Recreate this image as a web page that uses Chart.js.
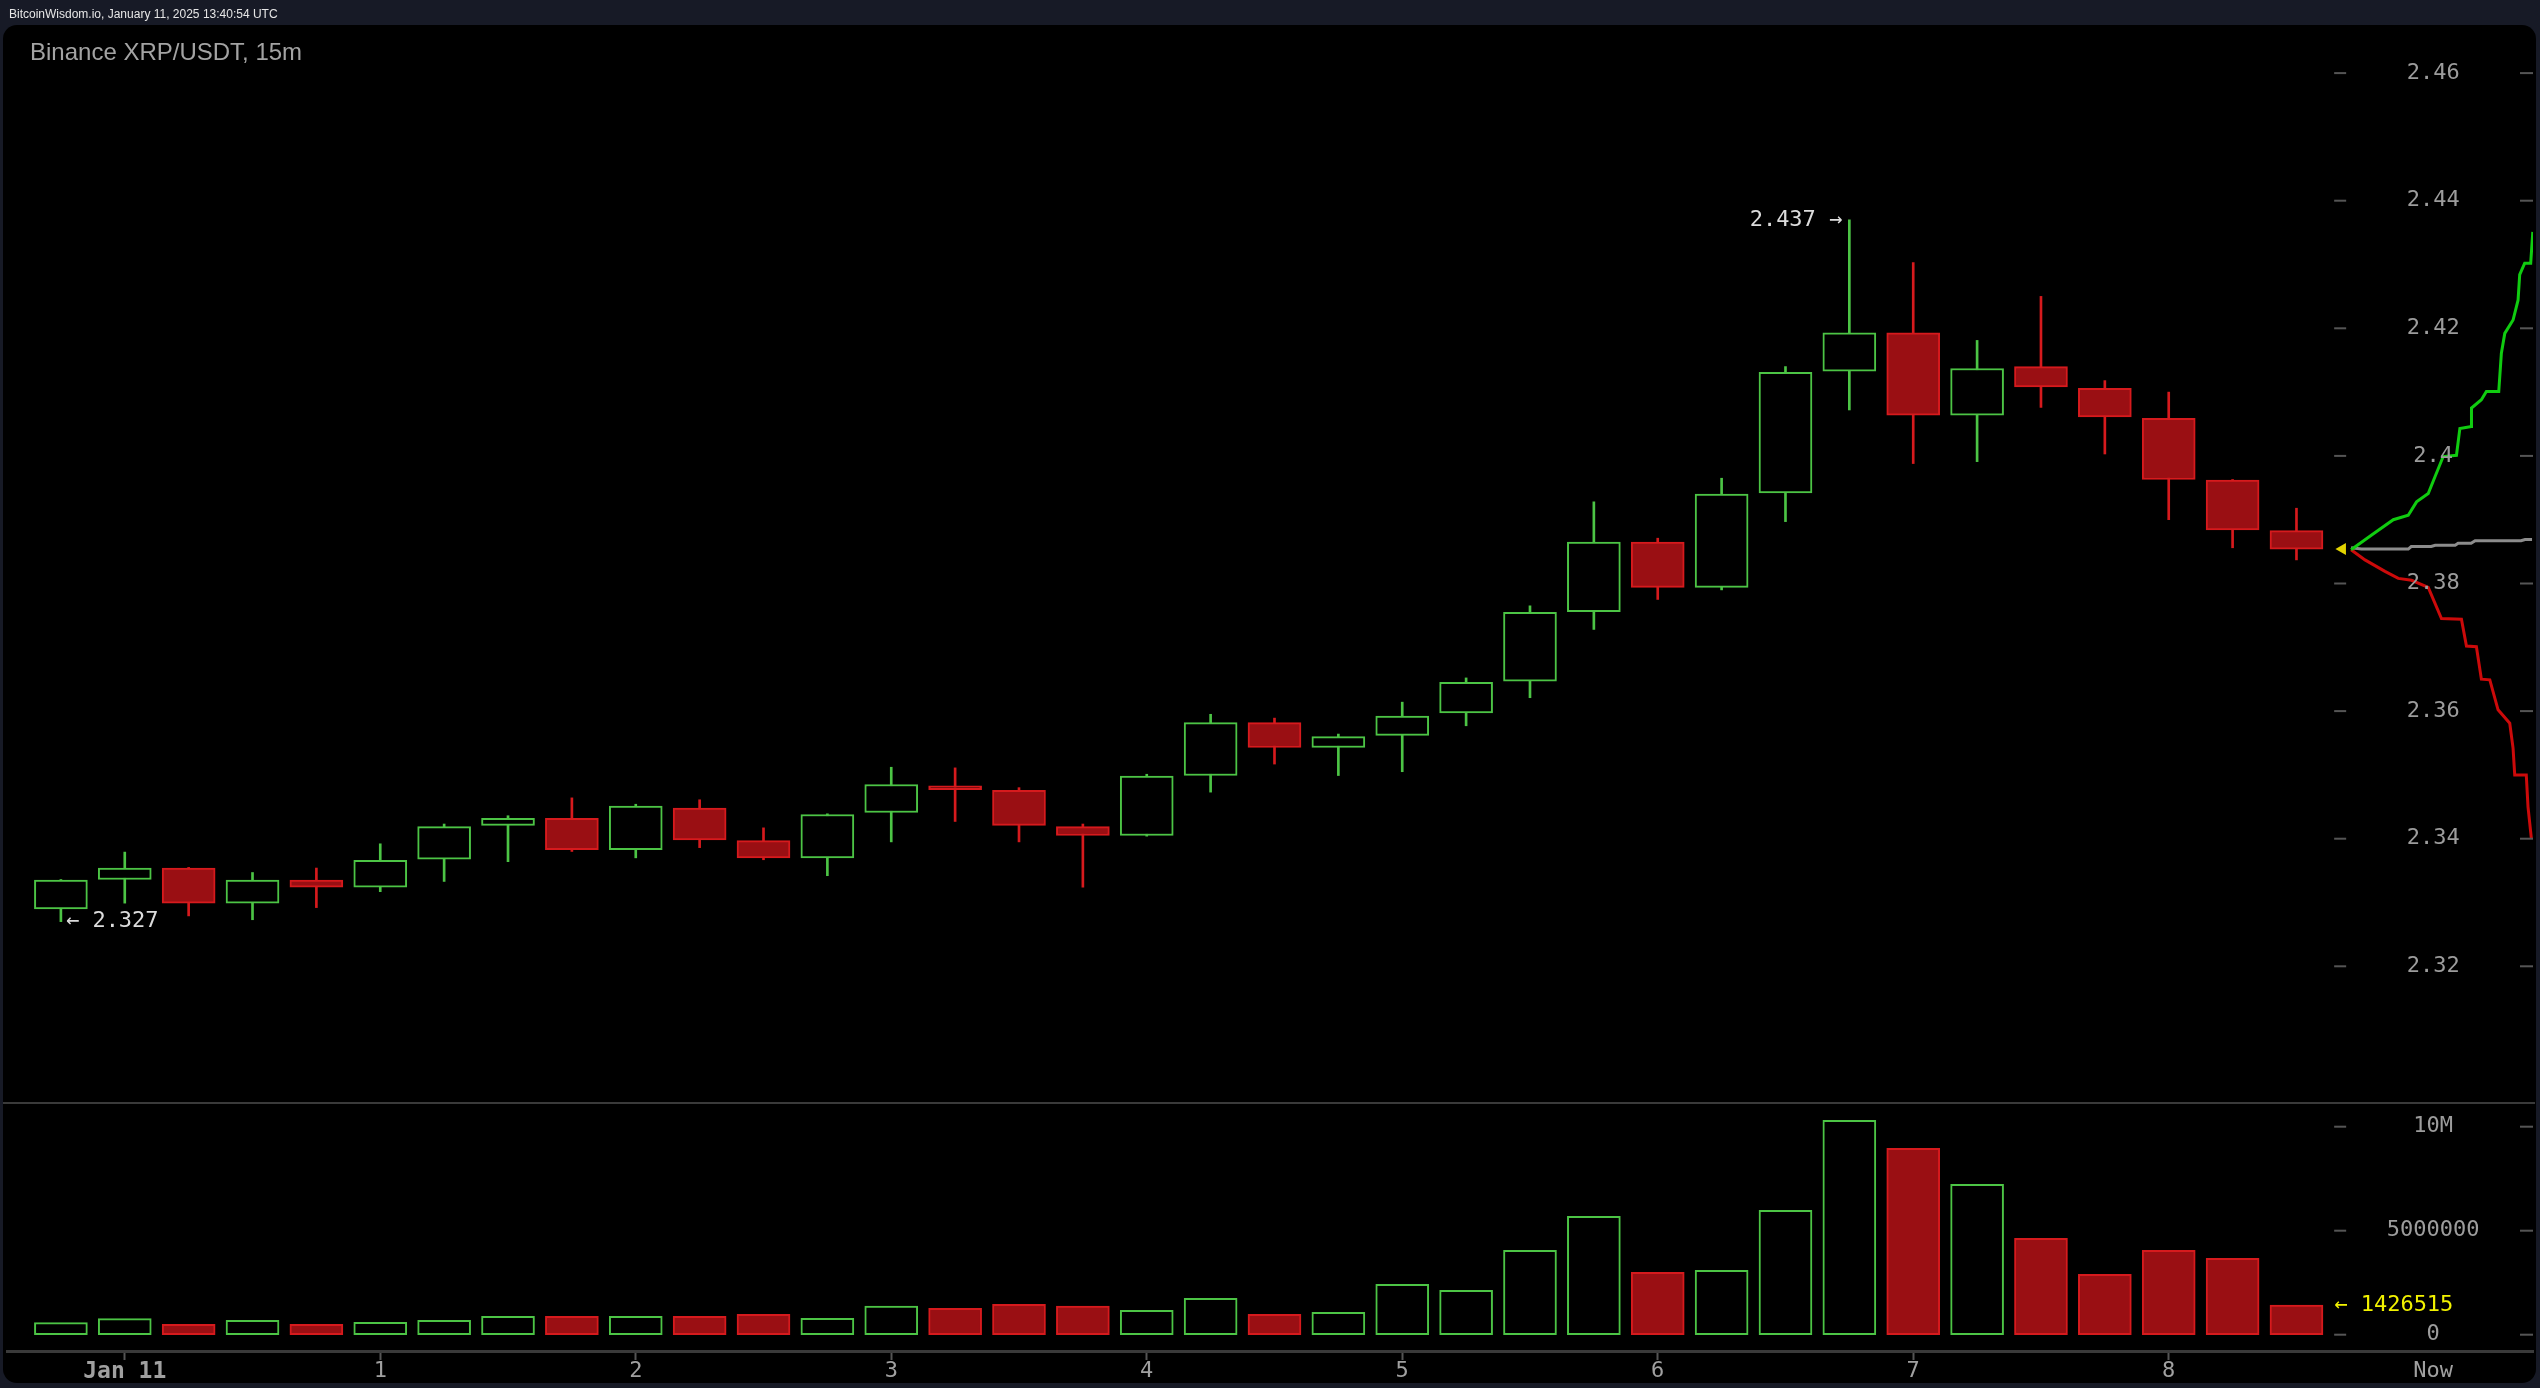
<!DOCTYPE html>
<html>
<head>
<meta charset="utf-8">
<title>Binance XRP/USDT, 15m</title>
<script src="https://cdn.jsdelivr.net/npm/chart.js@4.4.1/dist/chart.umd.min.js"></script>
<style>
  html, body { margin: 0; padding: 0; background: #171a26; }
  body { width: 2540px; height: 1388px; position: relative; overflow: hidden; }
  canvas { position: absolute; left: 0; top: 0; }
  #stamp { position: absolute; left: 9px; top: 8px; font: 12px/12px "Liberation Sans", Arial, sans-serif; color: #e6e6e6; z-index: 2; }
  #title { position: absolute; left: 30px; top: 40px; font: 24px/24px "Liberation Sans", Arial, sans-serif; color: #a3a3a3; z-index: 2; }
</style>
</head>
<body>
<canvas id="chart" width="2540" height="1388"></canvas>
<div id="stamp">BitcoinWisdom.io, January 11, 2025 13:40:54 UTC</div>
<div id="title">Binance XRP/USDT, 15m</div>
<script>
// 15m candles, one per slot (slot 1 = Jan 11 00:00)
const opens  = [2.3290, 2.3336, 2.3354, 2.3299, 2.3335, 2.3324, 2.3368, 2.3421, 2.3432, 2.3383,
                2.3448, 2.3397, 2.3370, 2.3441, 2.3483, 2.3476, 2.3419, 2.3405, 2.3499, 2.3582,
                2.3543, 2.3562, 2.3597, 2.3647, 2.3756, 2.3865, 2.3794, 2.3942, 2.4133, 2.4193,
                2.4064, 2.4140, 2.4106, 2.4059, 2.3962, 2.3883];
const highs  = [2.3336, 2.3379, 2.3355, 2.3347, 2.3354, 2.3392, 2.3423, 2.3436, 2.3464, 2.3454,
                2.3461, 2.3417, 2.3439, 2.3512, 2.3511, 2.3480, 2.3423, 2.3501, 2.3595, 2.3589,
                2.3564, 2.3614, 2.3652, 2.3765, 2.3928, 2.3871, 2.3965, 2.4140, 2.4370, 2.4303,
                2.4181, 2.4250, 2.4118, 2.4100, 2.3963, 2.3918];
const lows   = [2.3270, 2.3299, 2.3279, 2.3273, 2.3292, 2.3317, 2.3333, 2.3364, 2.3380, 2.3370,
                2.3386, 2.3367, 2.3342, 2.3395, 2.3427, 2.3395, 2.3324, 2.3404, 2.3473, 2.3517,
                2.3499, 2.3505, 2.3577, 2.3621, 2.3728, 2.3775, 2.3790, 2.3897, 2.4072, 2.3988,
                2.3991, 2.4076, 2.4003, 2.3900, 2.3856, 2.3837];
const closes = [2.3335, 2.3354, 2.3299, 2.3335, 2.3324, 2.3366, 2.3419, 2.3432, 2.3383, 2.3451,
                2.3398, 2.3370, 2.3438, 2.3485, 2.3477, 2.3421, 2.3405, 2.3498, 2.3582, 2.3543,
                2.3560, 2.3592, 2.3645, 2.3755, 2.3865, 2.3794, 2.3940, 2.4131, 2.4193, 2.4064,
                2.4137, 2.4108, 2.4061, 2.3963, 2.3884, 2.3854];
const volumes = [580000, 770000, 500000, 690000, 500000, 600000, 690000, 880000, 880000, 880000,
                 880000, 980000, 790000, 1370000, 1270000, 1460000, 1370000, 1170000, 1750000, 980000,
                 1080000, 2420000, 2130000, 4060000, 5690000, 3000000, 3100000, 5980000, 10310000, 8960000,
                 7230000, 4630000, 2900000, 4060000, 3670000, 1426515];

const hourTicks  = [1, 5, 9, 13, 17, 21, 25, 29, 33, 37.14];
const hourLabels = ['Jan 11', '1', '2', '3', '4', '5', '6', '7', '8', 'Now'];
const priceTicks = [2.32, 2.34, 2.36, 2.38, 2.4, 2.42, 2.44, 2.46];
const volumeTicks  = [0, 5000000, 10000000];
const volumeLabels = ['0', '5000000', '10M'];

// depth projection to the right of the last candle
const upX   = [35.855, 36.177, 36.516, 36.750, 36.880, 37.063, 37.167, 37.297, 37.505, 37.558,
               37.739, 37.740, 37.895, 37.973, 38.167, 38.208, 38.261, 38.391, 38.469, 38.495,
               38.573, 38.667, 38.700];
const upY   = [2.3853, 2.3876, 2.3900, 2.3907, 2.3928, 2.3941, 2.3967, 2.3999, 2.4001, 2.4043,
               2.4046, 2.4075, 2.4088, 2.4101, 2.4101, 2.4161, 2.4192, 2.4213, 2.4244, 2.4284,
               2.4302, 2.4302, 2.4351];
const downX = [35.855, 36.073, 36.386, 36.594, 36.802, 37.063, 37.270, 37.583, 37.661, 37.817,
               37.895, 38.027, 38.156, 38.339, 38.391, 38.417, 38.598, 38.625, 38.677];
const downY = [2.3853, 2.3837, 2.3819, 2.3808, 2.3805, 2.3794, 2.3745, 2.3744, 2.3702, 2.3701,
               2.3650, 2.3649, 2.3602, 2.3581, 2.3542, 2.3500, 2.3500, 2.3450, 2.3401];
const midX  = [35.855, 36.016, 36.750, 36.797, 37.109, 37.172, 37.484, 37.531, 37.734, 37.797,
               38.516, 38.578, 38.688];
const midY  = [2.3856, 2.3854, 2.3854, 2.3858, 2.3858, 2.3860, 2.3860, 2.3863, 2.3863, 2.3867,
               2.3867, 2.3869, 2.3869];

const nowX = 37.14;     // column of the "Now" label and the right axis text
const markerX = 35.72;  // yellow last-price marker

const GREEN = '#4cc445';
const RED = '#d61a1d';
const RED_FILL = '#9a0f13';
const FONT = '"DejaVu Sans Mono", monospace';

const up = closes.map((c, i) => c >= opens[i]);
const lineColors = up.map(u => u ? GREEN : RED);
const fillColors = up.map(u => u ? '#000' : RED_FILL);

const overlay = {
    id: 'overlay',
    beforeDraw(chart) {
        const ctx = chart.ctx;
        ctx.save();
        ctx.fillStyle = '#000';
        ctx.beginPath();
        ctx.roundRect(3, 25, 2533, 1358, 14);
        ctx.fill();
        ctx.restore();
    },
    afterDraw(chart) {
        const ctx = chart.ctx;
        const xs = chart.scales.x, ys = chart.scales.y, yv = chart.scales.yv;
        const area = chart.chartArea;
        const colX = xs.getPixelForValue(nowX);
        ctx.save();

        // pane separator
        ctx.fillStyle = '#3a3a3a';
        ctx.fillRect(3, 1102, 2532, 2);

        // right axis text and marks
        ctx.font = '22px ' + FONT;
        ctx.textAlign = 'center';
        ctx.textBaseline = 'middle';
        const marks = py => {
            ctx.fillStyle = '#555';
            ctx.fillRect(colX - 99, py - 1, 12, 2);
            ctx.fillRect(area.right - 13, py - 1, 13, 2);
        };
        priceTicks.forEach(v => {
            const py = ys.getPixelForValue(v);
            marks(py);
            ctx.fillStyle = '#9c9c9c';
            ctx.fillText(String(v), colX, py);
        });
        volumeTicks.forEach((v, i) => {
            const py = yv.getPixelForValue(v);
            marks(py);
            ctx.fillStyle = '#9c9c9c';
            ctx.fillText(volumeLabels[i], colX, py);
        });

        // high / low notes
        const hi = Math.max(...highs), lo = Math.min(...lows);
        ctx.fillStyle = '#dcdcdc';
        ctx.textAlign = 'right';
        ctx.fillText(hi.toFixed(3) + ' \u2192', xs.getPixelForValue(highs.indexOf(hi)) - 7, ys.getPixelForValue(hi));
        ctx.textAlign = 'left';
        ctx.fillText('\u2190 ' + lo.toFixed(3), xs.getPixelForValue(lows.indexOf(lo)) + 5, ys.getPixelForValue(lo));

        // last volume
        const lastVol = volumes[volumes.length - 1];
        ctx.fillStyle = '#f2f200';
        ctx.fillText('\u2190 ' + lastVol, colX - 99, yv.getPixelForValue(lastVol));
        ctx.restore();
    }
};

new Chart(document.getElementById('chart'), {
    type: 'bar',
    data: {
        datasets: [
            {
                label: 'wick',
                data: lows.map((l, i) => ({x: i, y: [l, highs[i]]})),
                backgroundColor: lineColors,
                barThickness: 2,
                grouped: false,
                order: 3,
                yAxisID: 'y'
            },
            {
                label: 'body',
                data: opens.map((o, i) => ({x: i, y: [o, closes[i]]})),
                backgroundColor: fillColors,
                borderColor: lineColors,
                borderWidth: 2,
                borderSkipped: false,
                barThickness: 53,
                grouped: false,
                order: 2,
                yAxisID: 'y'
            },
            {
                label: 'volume',
                data: volumes.map((v, i) => ({x: i, y: v})),
                backgroundColor: fillColors,
                borderColor: lineColors,
                borderWidth: 2,
                borderSkipped: false,
                barThickness: 53,
                grouped: false,
                order: 2,
                yAxisID: 'yv'
            },
            {
                type: 'line',
                label: 'bids',
                data: upX.map((x, i) => ({x: x, y: upY[i]})),
                borderColor: '#10cc10',
                borderWidth: 3,
                pointRadius: 0,
                tension: 0,
                order: 1,
                yAxisID: 'y'
            },
            {
                type: 'line',
                label: 'asks',
                data: downX.map((x, i) => ({x: x, y: downY[i]})),
                borderColor: '#cc0a0a',
                borderWidth: 3,
                pointRadius: 0,
                tension: 0,
                order: 1,
                yAxisID: 'y'
            },
            {
                type: 'line',
                label: 'mid',
                data: midX.map((x, i) => ({x: x, y: midY[i]})),
                borderColor: '#8c8c8c',
                borderWidth: 3,
                pointRadius: 0,
                tension: 0,
                order: 1,
                yAxisID: 'y'
            },
            {
                type: 'line',
                label: 'last',
                data: [{x: markerX, y: closes[closes.length - 1]}],
                showLine: false,
                pointStyle: 'triangle',
                rotation: -90,
                pointRadius: 7,
                pointBackgroundColor: '#e3d400',
                pointBorderWidth: 0,
                order: 0,
                yAxisID: 'y'
            }
        ]
    },
    options: {
        responsive: false,
        animation: false,
        devicePixelRatio: 1,
        layout: {padding: {left: 4, right: 5, top: 28, bottom: 0}},
        plugins: {
            legend: {display: false},
            tooltip: {enabled: false}
        },
        scales: {
            x: {
                type: 'linear',
                offset: false,
                min: -0.84375,
                max: 38.703125,
                afterBuildTicks: scale => { scale.ticks = hourTicks.map(v => ({value: v})); },
                afterFit: scale => { scale.height = 37; },
                ticks: {
                    autoSkip: false,
                    maxRotation: 0,
                    padding: -2,
                    color: '#a0a0a0',
                    font: ctx => ({family: FONT, size: ctx.index === 0 ? 23 : 22, weight: ctx.index === 0 ? 'bold' : 'normal'}),
                    callback: (value, index) => hourLabels[index]
                },
                grid: {
                    offset: false,
                    drawOnChartArea: false,
                    drawTicks: true,
                    tickLength: 9,
                    tickWidth: 2,
                    tickColor: ctx => ctx.index === hourTicks.length - 1 ? 'rgba(0,0,0,0)' : '#555'
                },
                border: {display: true, color: '#3a3a3a', width: 3}
            },
            y: {
                type: 'linear',
                display: false,
                min: 2.259702,
                max: 2.467069
            },
            yv: {
                type: 'linear',
                display: false,
                min: -784000,
                max: 62822000
            }
        }
    },
    plugins: [overlay]
});
</script>
</body>
</html>
